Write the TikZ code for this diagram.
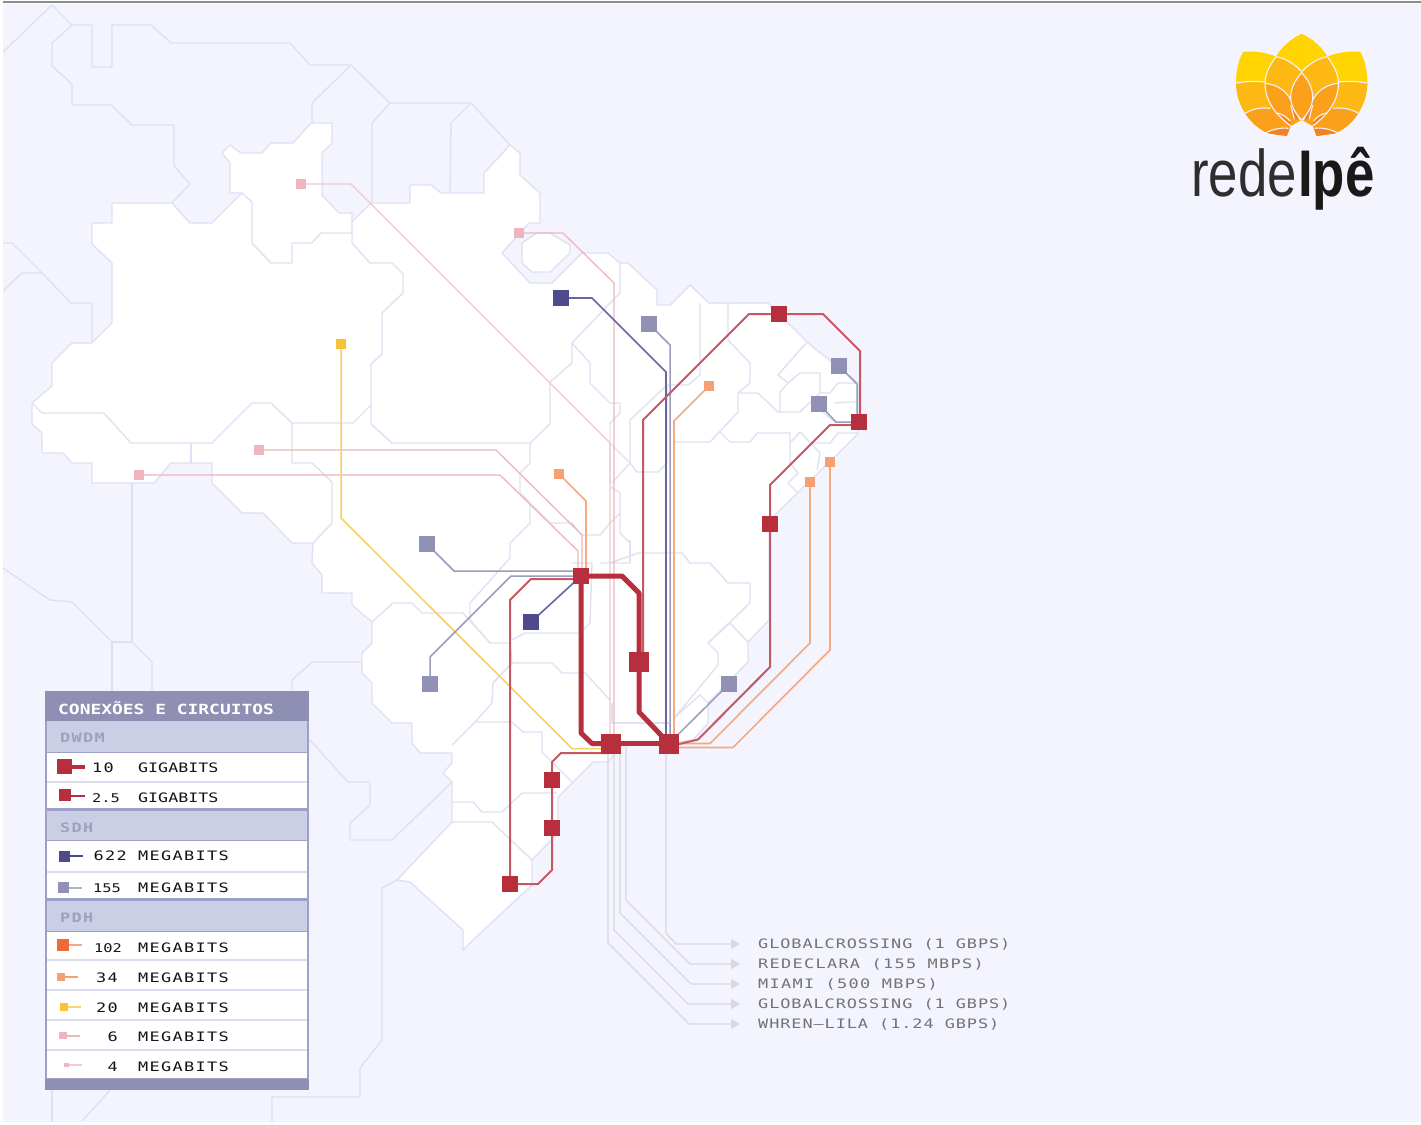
\documentclass[tikz,border=0pt]{standalone}
\usepackage{fontspec}
\usepackage{graphicx}
\usetikzlibrary{arrows.meta}
\newfontfamily\pixg[FakeStretch=1.28,LetterSpace=0]{DejaVu Sans Mono}
\newfontfamily\pixm[FakeStretch=1.3,LetterSpace=10]{DejaVu Sans Mono}
\newfontfamily\pixl[FakeStretch=1.3,LetterSpace=7]{DejaVu Sans Mono}
\newfontfamily\logofont{Liberation Sans}
\definecolor{bgl}{HTML}{F3F4FE}
\definecolor{bord}{HTML}{DFE1F2}
\definecolor{rd}{HTML}{B72E3C}
\definecolor{dk}{HTML}{4F4A8C}
\definecolor{md}{HTML}{9191B5}
\definecolor{oa}{HTML}{EE6A3C}
\definecolor{ob}{HTML}{F4A070}
\definecolor{yl}{HTML}{F8C238}
\definecolor{pk}{HTML}{EFB5BE}
\definecolor{gr}{HTML}{D8D8DE}
\definecolor{hd}{HTML}{8F8FB3}
\definecolor{bn}{HTML}{CBCFE6}
\definecolor{lg}{HTML}{9EA0C6}
\definecolor{fla}{HTML}{FFD400}
\definecolor{flb}{HTML}{FDB813}
\definecolor{flc}{HTML}{FAA01B}
\definecolor{fld}{HTML}{F58220}
\pgfdeclarelayer{maplayer}
\pgfdeclarelayer{linklayer}
\pgfsetlayers{maplayer,linklayer,main}
\tikzset{
  bl/.style={draw=bord,line width=1.4pt,line join=round},
  sq/.style={rectangle,draw=none,inner sep=0pt,minimum size=#1},
  lnk/.style={line join=round},
  lten/.style={lnk,draw=rd,line width=5pt},
  ltwo/.style={lnk,draw=rd!80!white,line width=2pt},
  lsix/.style={lnk,draw=dk!85!white,line width=1.6pt},
  lone/.style={lnk,draw=md!90!white,line width=1.5pt},
  lobe/.style={lnk,draw=ob!90!white,line width=1.6pt},
  lyel/.style={lnk,draw=yl!80!white,line width=1.5pt},
  lpk/.style={lnk,draw=pk,line width=1.3pt},
  lpl/.style={lnk,draw=pk!75!white,line width=1.3pt},
  lgr/.style={lnk,draw=gr,line width=1.4pt,-{Triangle[width=10pt,length=9pt]}},
  outl/.style={anchor=base west,inner sep=0pt,text=black!55,font=\pixl\fontsize{13}{13}\selectfont},
  outw/.style={anchor=base west,inner sep=0pt,text=black!55,font=\pixm\fontsize{13}{13}\selectfont},
  gigt/.style={anchor=base west,inner sep=0pt,text=black!92,font=\pixg\fontsize{13}{13}\selectfont},
  megt/.style={anchor=base west,inner sep=0pt,text=black!92,font=\pixm\fontsize{13}{13}\selectfont},
  numt/.style={anchor=base east,inner sep=0pt,text=black!92,font=\pixm\fontsize{13}{13}\selectfont},
  numn/.style={anchor=base east,inner sep=0pt,text=black!92,font=\pixg\fontsize{12}{12}\selectfont},
  sect/.style={anchor=base west,inner sep=0pt,text=hd!85!white,font=\pixm\bfseries\fontsize{13}{13}\selectfont},
  whl/.style={draw=bgl,line width=1.1pt}
}
\begin{document}
\begin{tikzpicture}[x=1pt,y=-1pt]
\useasboundingbox (0,0) rectangle (1421,1124);
% ---------- station nodes
\node[sq=16,fill=rd] (h1) at (581,576) {};
\node[sq=20,fill=rd] (h2) at (611,743.5) {};
\node[sq=20,fill=rd] (h3) at (669,743.5) {};
\node[sq=20,fill=rd] (h4) at (639,662) {};
\node[sq=16,fill=rd] (r1) at (779,314) {};
\node[sq=16,fill=rd] (r2) at (859,422) {};
\node[sq=16,fill=rd] (r3) at (770,524) {};
\node[sq=16,fill=rd] (r4) at (552,780) {};
\node[sq=16,fill=rd] (r5) at (552,828) {};
\node[sq=16,fill=rd] (r6) at (510,884) {};
\node[sq=16,fill=dk] (d1) at (561,298) {};
\node[sq=16,fill=dk] (d2) at (531,622) {};
\node[sq=16,fill=md] (m1) at (649,324) {};
\node[sq=16,fill=md] (m2) at (839,366) {};
\node[sq=16,fill=md] (m3) at (819,404) {};
\node[sq=16,fill=md] (m4) at (729,684) {};
\node[sq=16,fill=md] (m5) at (427,544) {};
\node[sq=16,fill=md] (m6) at (430,684) {};
\node[sq=10,fill=ob] (o1) at (709,386) {};
\node[sq=10,fill=ob] (o2) at (559,474) {};
\node[sq=10,fill=ob] (o3) at (810,482) {};
\node[sq=10,fill=ob] (o4) at (830,462) {};
\node[sq=10,fill=yl] (y1) at (341,344) {};
\node[sq=10,fill=pk] (p1) at (301,184) {};
\node[sq=10,fill=pk] (p2) at (259,450) {};
\node[sq=10,fill=pk] (p3) at (139,475) {};
\node[sq=10,fill=pk] (p4) at (519,233) {};
% ---------- outside labels
\node[outl] (t1) at (758,948) {GLOBALCROSSING (1 GBPS)};
\node[outw] (t2) at (758,968) {REDECLARA (155 MBPS)};
\node[outw] (t3) at (758,988) {MIAMI (500 MBPS)};
\node[outl] (t4) at (758,1008) {GLOBALCROSSING (1 GBPS)};
\node[outl] (t5) at (758,1028) {WHREN–LILA (1.24 GBPS)};
\coordinate (a1) at (740,944);
\coordinate (a2) at (740,964);
\coordinate (a3) at (740,984);
\coordinate (a4) at (740,1004);
\coordinate (a5) at (740,1024);
% ---------- map
\begin{pgfonlayer}{maplayer}
\fill[white] (0,0) rectangle (1421,1124);
\fill[bgl] (3,4) rectangle (1421,1122);
\fill[black!45] (3,1.5) rectangle (1421,3.5);
\filldraw[fill=white,draw=bord,line width=1.4pt,line join=round]
 (222,153)--(230,145)--(241,153)--(262,153)--(271,143)--(293,143)--(311,123)--(332,123)--(332,143)--(322,153)--(322,195)--(339,213)--(352,213)--(352,222)--(371,203)--(410,203)--(410,185)--(431,185)--(441,193)--(484,193)--(484,173)--(510,145)--(520,153)--(520,175)--(540,193)--(540,223)--(529,223)--(502,253)--(530,283)--(552,283)--(582,253)--(608,253)--(620,263)--(628,263)--(657,290)--(657,305)--(670,305)--(690,285)--(709,303)--(768,303)--(808,343)--(858,383)--(858,434)--(773,517)--(769,520)--(769,620)--(748,642)--(748,662)--(708,703)--(708,723)--(693,740)--(670,743)--(622,743)--(608,762)--(593,762)--(558,797)--(558,833)--(532,860)--(532,885)--(473,940)--(463,950)--(463,930)--(410,882)--(397,880)--(452,822)--(452,782)--(443,773)--(452,763)--(452,753)--(420,753)--(412,743)--(412,723)--(392,723)--(372,703)--(372,683)--(362,673)--(362,653)--(372,643)--(372,622)--(352,605)--(352,593)--(322,593)--(322,575)--(312,563)--(313,543)--(292,543)--(263,513)--(242,513)--(212,483)--(212,463)--(171,463)--(154,483)--(92,483)--(92,463)--(72,463)--(63,453)--(42,453)--(42,433)--(32,424)--(32,403)--(52,386)--(52,363)--(72,343)--(92,343)--(112,323)--(112,263)--(92,244)--(92,223)--(112,223)--(112,203)--(172,203)--(190,223)--(212,223)--(242,193)--(230,193)--(230,163)--cycle;
\filldraw[fill=white,draw=bord,line width=1.4pt,line join=round]
 (522,243)--(537,233)--(550,233)--(570,245)--(570,253)--(550,272)--(532,272)--(522,263)--cycle;
% neighbours
\draw[bl] plot coordinates {(3,52) (52,5) (72,25) (92,25) (92,67) (112,67) (112,25) (151,25) (171,43) (290,43) (310,65) (351,65) (390,103) (471,103) (510,145)};
\draw[bl] plot coordinates {(72,25) (52,43) (52,66) (72,84) (72,105) (111,105) (132,125) (174,125) (174,166) (190,184) (172,203)};
\draw[bl] plot coordinates {(351,65) (312,103) (312,123)};
\draw[bl] plot coordinates {(390,103) (372,123) (372,203)};
\draw[bl] plot coordinates {(471,103) (451,123) (450,193)};
\draw[bl] plot coordinates {(3,243) (12,243) (42,273) (71,303) (92,303) (92,343)};
\draw[bl] plot coordinates {(3,291) (22,273) (42,273)};
\draw[bl] plot coordinates {(132,483) (132,642) (112,642) (112,692)};
\draw[bl] plot coordinates {(3,568) (50,600) (72,602) (112,642)};
\draw[bl] plot coordinates {(132,642) (152,662) (152,692)};
\draw[bl] plot coordinates {(292,692) (292,680) (312,662) (362,662)};
\draw[bl] plot coordinates {(308,738) (348,782) (370,782) (370,805) (350,823) (350,840) (392,840) (452,782)};
\draw[bl] plot coordinates {(397,880) (382,888) (382,1040) (360,1068) (360,1097) (272,1097) (272,1122)};
\draw[bl] plot coordinates {(112,1088) (82,1121)};
\draw[bl] plot coordinates {(52,1088) (52,1122)};
% states
\draw[bl] plot coordinates {(242,193) (252,202) (252,243) (271,263) (292,263) (292,243) (312,243) (321,233) (352,233)};
\draw[bl] plot coordinates {(352,222) (352,243) (370,263) (392,263) (403,274) (403,293) (382,313) (382,354) (371,364) (371,424) (392,443) (530,443) (550,424) (550,382) (572,363) (572,343) (610,303) (620,293) (620,263)};
\draw[bl] plot coordinates {(371,405) (353,423) (292,423) (271,403) (252,403) (212,443) (131,443) (104,413) (42,413) (32,403)};
\draw[bl] plot coordinates {(292,423) (292,463) (312,463) (332,482) (332,523) (313,543)};
\draw[bl] plot coordinates {(191,443) (191,463)};
\draw[bl] plot coordinates {(572,343) (590,363) (590,383) (610,403) (620,403) (620,413) (610,423) (610,483)};
\draw[bl] plot coordinates {(530,443) (530,463) (520,473) (520,493) (530,503) (530,523) (510,543) (510,558) (470,603) (470,620) (490,643) (510,643) (512,663) (493,683) (492,703) (475,722) (452,745)};
\draw[bl] plot coordinates {(520,493) (550,523) (572,523) (582,535) (600,535) (610,523) (620,513) (620,493) (611,487)};
\draw[bl] plot coordinates {(620,513) (620,533) (630,543) (630,563) (600,563)};
\draw[bl] plot coordinates {(610,443) (630,463) (612,483)};
\draw[bl] plot coordinates {(630,463) (630,420) (667,385) (688,385) (700,375) (700,303)};
\draw[bl] plot coordinates {(630,463) (637,472) (658,472) (667,463) (667,385)};
\draw[bl] plot coordinates {(673,442) (710,442) (738,412) (738,393) (758,393) (778,412) (800,412) (820,393) (830,393) (838,383) (858,383)};
\draw[bl] plot coordinates {(728,303) (728,340) (750,363) (750,383) (738,393)};
\draw[bl] plot coordinates {(806,343) (778,375) (788,383) (780,392) (780,412)};
\draw[bl] plot coordinates {(788,383) (800,373) (820,373) (820,393)};
\draw[bl] plot coordinates {(835,403) (848,402) (858,402)};
\draw[bl] plot coordinates {(823,412) (836,423)};
\draw[bl] plot coordinates {(720,432) (730,442) (750,442) (757,433) (778,433) (790,433) (790,463) (798,473) (788,483) (797,492)};
\draw[bl] plot coordinates {(790,443) (800,432) (820,453) (817,470)};
\draw[bl] plot coordinates {(810,443) (830,443) (838,433) (858,433)};
\draw[bl] plot coordinates {(372,622) (393,603) (412,603) (422,613) (463,613) (490,643)};
\draw[bl] plot coordinates {(512,640) (525,633) (580,633) (590,623) (592,563) (572,563)};
\draw[bl] plot coordinates {(493,683) (512,663) (552,663) (562,673) (585,673) (610,700)};
\draw[bl] plot coordinates {(475,722) (512,722) (523,732) (542,732) (542,752) (572,782)};
\draw[bl] plot coordinates {(452,802) (473,802) (482,812) (502,812) (522,793) (557,793)};
\draw[bl] plot coordinates {(452,822) (492,822) (532,860)};
\draw[bl] plot coordinates {(612,703) (612,723) (670,723) (670,735)};
\draw[bl] plot coordinates {(610,563) (638,553) (682,553) (690,563) (710,563) (728,583) (750,583) (750,603) (708,643) (718,653) (718,665) (675,717)};
\draw[bl] plot coordinates {(630,540) (630,563)};
\draw[bl] plot coordinates {(730,623) (748,642)};
\draw[bl] plot coordinates {(730,623) (708,643)};
\draw[bl] plot coordinates {(675,717) (700,695) (708,703)};
\end{pgfonlayer}
% ---------- connectors
\begin{pgfonlayer}{linklayer}
\draw[lgr] ([xshift=-3pt]h3.center) -- (666,933) -- (676,944) -- (a1);
\draw[lgr] ([xshift=15pt]h2.center) -- (626,900) -- (690,964) -- (a2);
\draw[lgr] ([xshift=9pt]h2.center) -- (620,913) -- (691,984) -- (a3);
\draw[lgr] ([xshift=3pt]h2.center) -- (614,930) -- (688,1004) -- (a4);
\draw[lgr] ([xshift=-3pt]h2.center) -- (608,943) -- (689,1024) -- (a5);
\draw[lpl] (p1.center) -- (351,184) -- (610,443) -- ([xshift=-1pt]h2.center);
\draw[lpk] (p4.center) -- (563,233) -- (614,283) -- ([xshift=3pt]h2.center);
\draw[lpk] (p2.center) -- (496,450) -- (582,535) -- ([xshift=1pt]h1.center);
\draw[lpk] (p3.center) -- (500,475) -- (578,551) -- ([xshift=-3pt]h1.center);
\draw[lyel] (y1.center) -- (341,518) -- (572,748.5) -- ([yshift=-5pt]h2.center);
\draw[lobe] (o1.center) -- (674,421) -- ([xshift=5pt]h3.center);
\draw[lobe] (o2.center) -- (586,501) -- ([xshift=5pt]h1.center);
\draw[lobe] (o3.center) -- (810,643) -- (710,743.5) -- (h3.center);
\draw[lobe] (o4.center) -- (830,650) -- (733,747.5) -- ([yshift=-4pt]h3.center);
\draw[lone] (m1.center) -- (670,345) -- ([xshift=1pt]h3.center);
\draw[lone] (m2.center) -- (857,384) -- ([xshift=-2pt]r2.center);
\draw[lone] (m3.center) -- (836,422) -- (r2.center);
\draw[lone] (m4.center) -- (h3.center);
\draw[lone] (m5.center) -- (454,571) -- ([yshift=5pt]h1.center);
\draw[lone] (m6.center) -- (430,657) -- (511,576) -- (h1.center);
\draw[lsix] (d1.center) -- (592,298) -- (666,372) -- ([xshift=-3pt]h3.center);
\draw[lsix] (d2.center) -- (h1.center);
\draw[ltwo] ([yshift=-3pt]h1.center) -- (531,579) -- (510,600) -- (r6.center);
\draw[ltwo] ([yshift=-9.5pt]h2.center) -- (561,753) -- (552,762) -- (r4.center) -- (r5.center) -- (552,870) -- (538,884) -- (r6.center);
\draw[ltwo] ([xshift=4pt]h4.center) -- (643,420) -- (749,314) -- (r1.center) -- (823,314) -- (860,351) -- ([xshift=1pt]r2.center);
\draw[ltwo] ([yshift=-3pt]h3.center) -- (698,739.5) -- (770,667) -- (r3.center) -- (770,485) -- (830,425) -- ([yshift=-3pt]r2.center);
\draw[lten] (h1.center) -- (622,576) -- (639,593) -- (h4.center) -- (639,712) -- (h3.center);
\draw[lten] (h1.center) -- (581,733) -- (592,743.5) -- (h2.center);
\draw[lten] (h2.center) -- (h3.center);
\end{pgfonlayer}
% ---------- legend
\fill[lg] (45,691) rectangle (309,1090);
\fill[hd] (45,691) rectangle (309,721);
\fill[bn] (47,721) rectangle (307,752);
\fill[bn] (47,811) rectangle (307,840);
\fill[bn] (47,901) rectangle (307,931);
\foreach \ya/\yb in {753/781,783/808,841/871,873/898,932/959,961/989,991/1019,1021/1049,1051/1078}
  \fill[white] (47,\ya) rectangle (307,\yb);
\foreach \ya/\yb in {781/783,959/961,989/991,1019/1021,1049/1051,871/873}
  \fill[bn!70!white] (47,\ya) rectangle (307,\yb);
\fill[hd] (45,1079) rectangle (309,1090);
\node[anchor=base west,inner sep=0pt,text=white,font=\pixg\bfseries\fontsize{14}{14}\selectfont] (ttl) at (58,714) {CONEXÕES E CIRCUITOS};
\node[sect] (s1) at (60,742) {DWDM};
\node[sect] (s2) at (60,832) {SDH};
\node[sect] (s3) at (60,922) {PDH};
\node[numt] (n1) at (114,772) {10};
\node[gigt] (g1) at (138,772) {GIGABITS};
\node[numn] (n2) at (120,802) {2.5};
\node[gigt] (g2) at (138,802) {GIGABITS};
\node[numt] (n3) at (127,860) {622};
\node[megt] (g3) at (138,860) {MEGABITS};
\node[numn] (n4) at (121,892) {155};
\node[megt] (g4) at (138,892) {MEGABITS};
\node[numn] (n5) at (122,952) {102};
\node[megt] (g5) at (138,952) {MEGABITS};
\node[numt] (n6) at (118,982) {34};
\node[megt] (g6) at (138,982) {MEGABITS};
\node[numt] (n7) at (118,1012) {20};
\node[megt] (g7) at (138,1012) {MEGABITS};
\node[numt] (n8) at (118,1041) {6};
\node[megt] (g8) at (138,1041) {MEGABITS};
\node[numt] (n9) at (118,1071) {4};
\node[megt] (g9) at (138,1071) {MEGABITS};
% legend keys
\coordinate (e1) at (85,767); \draw[rd,line width=4pt] (64.5,767)--(e1);
\node[sq=15,fill=rd] (k1) at (64.5,766.5) {};
\coordinate (e2) at (85,796); \draw[rd,line width=2pt] (65,796)--(e2);
\node[sq=12,fill=rd] (k2) at (65,795) {};
\coordinate (e3) at (83,856); \draw[dk,line width=1.6pt] (64,856)--(e3);
\node[sq=11,fill=dk] (k3) at (64.5,856.5) {};
\coordinate (e4) at (82,888); \draw[md!70!white,line width=1.6pt] (64,888)--(e4);
\node[sq=11,fill=md] (k4) at (63.5,887.5) {};
\coordinate (e5) at (82,945); \draw[oa!60!white,line width=1.6pt] (63,945)--(e5);
\node[sq=12,fill=oa] (k5) at (63,945) {};
\coordinate (e6) at (78,977); \draw[ob,line width=1.3pt] (61,977)--(e6);
\node[sq=8,fill=ob] (k6) at (61,977) {};
\coordinate (e7) at (81,1007); \draw[yl!70!white,line width=1.3pt] (63,1007)--(e7);
\node[sq=8,fill=yl] (k7) at (63.5,1007) {};
\coordinate (e8) at (80,1036); \draw[pk,line width=1.3pt] (63,1036)--(e8);
\node[sq=7.5,fill=pk] (k8) at (63,1035.5) {};
\coordinate (e9) at (82,1065); \draw[pk!70!white,line width=1.2pt] (66,1065)--(e9);
\node[sq=4.5,fill=pk] (k9) at (66.5,1065) {};
% ---------- logo
\begin{scope}[shift={(1301.7,20)},x=0.3333pt,y=-0.3333pt]
\foreach \s in {1,-1}{
\begin{scope}[xscale=\s]
 % outer petal
 \begin{scope}
  \clip (-175,95) .. controls (-130,93) and (-100,100) .. (-77,110) .. controls (-95,135) and (-110,160) .. (-110,190) .. controls (-110,250) and (-70,290) .. (-33,318) -- (-45,348) -- (-100,340) .. controls (-150,320) and (-197,260) .. (-197,190) .. controls (-197,150) and (-190,120) .. (-175,95) -- cycle;
  \fill[fla] (-200,80) rectangle (-60,200);
  \fill[flb] (-200,190) .. controls (-165,183) and (-135,183) .. (-105,187) -- (-60,187) -- (-60,360) -- (-200,360) -- cycle;
  \fill[flc] (-200,285) -- (-170,280) .. controls (-145,265) and (-120,262) .. (-95,265) -- (-30,265) -- (-30,360) -- (-200,360) -- cycle;
  \fill[fld] (-110,340) .. controls (-90,328) and (-60,322) .. (-40,325) -- (-30,360) -- (-110,360) -- cycle;
  \draw[whl] (-200,190) .. controls (-165,183) and (-135,183) .. (-105,187);
  \draw[whl] (-170,280) .. controls (-145,265) and (-120,262) .. (-95,265);
  \draw[whl] (-110,340) .. controls (-90,328) and (-60,322) .. (-40,325);
 \end{scope}
 % big centre petal
 \fill[flb] (0,42) .. controls (-40,60) and (-65,90) .. (-77,110) .. controls (-95,135) and (-110,160) .. (-110,190) .. controls (-110,250) and (-70,290) .. (-33,318) -- (0,300) -- cycle;
 \fill[fla] (0,42) .. controls (-40,60) and (-65,90) .. (-77,110) .. controls (-45,115) and (-20,135) .. (0,155) -- cycle;
 \fill[flc] (-108,190) .. controls (-70,195) and (-45,215) .. (-33,240) -- (-5,300) -- (-33,318) .. controls (-70,290) and (-108,250) .. (-108,190) -- cycle;
 \fill[fld] (-33,240) -- (-8,298) -- (-22,298) -- (-33,255) -- cycle;
 \fill[fld] (-78,278) .. controls (-60,282) and (-45,290) .. (-35,303) -- (-33,318) -- cycle;
 \draw[whl] (-77,110) .. controls (-95,135) and (-110,160) .. (-110,190) .. controls (-110,250) and (-70,290) .. (-33,318);
 \draw[whl] (-77,110) .. controls (-45,115) and (-20,135) .. (0,155);
 \draw[whl] (-108,190) .. controls (-70,195) and (-45,215) .. (-33,240) -- (-5,300);
 \draw[whl] (-78,278) .. controls (-60,282) and (-45,290) .. (-35,303);
 \draw[whl] (-33,255) -- (-22,298);
\end{scope}}
 \fill[flc] (0,158) .. controls (-20,180) and (-33,205) .. (-33,232) .. controls (-33,260) and (-15,285) .. (0,300) .. controls (15,285) and (33,260) .. (33,232) .. controls (33,205) and (20,180) .. (0,158) -- cycle;
 \draw[whl] (0,158) .. controls (-20,180) and (-33,205) .. (-33,232) .. controls (-33,260) and (-15,285) .. (0,300) .. controls (15,285) and (33,260) .. (33,232) .. controls (33,205) and (20,180) .. (0,158) -- cycle;
\end{scope}
\node[anchor=base west,inner sep=0pt,text=black!82,font=\logofont\fontsize{66}{66}\selectfont] (lg1) at (1191,196) {\scalebox{0.8}[1]{rede}};
\node[anchor=base west,inner sep=0pt,text=black!90,font=\logofont\bfseries\fontsize{66}{66}\selectfont] (lg2) at (1298,196) {\scalebox{0.8}[1]{Ipê}};
\end{tikzpicture}
\end{document}
